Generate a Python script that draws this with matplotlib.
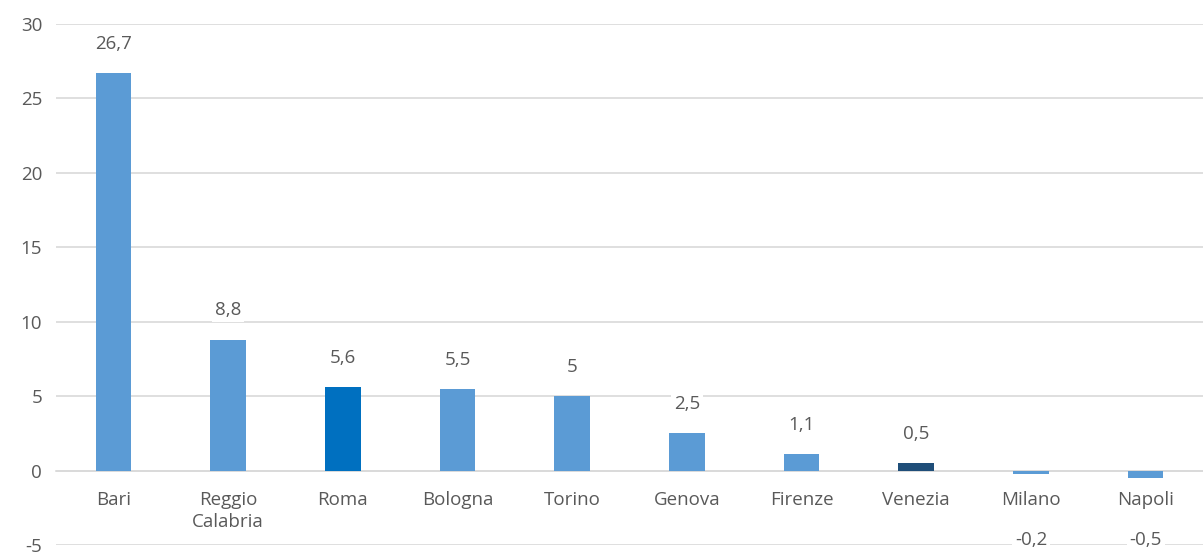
import matplotlib.pyplot as plt

cities = ["Bari", "Reggio\nCalabria", "Roma", "Bologna", "Torino", "Genova",
          "Firenze", "Venezia", "Milano", "Napoli"]
values = [26.7, 8.8, 5.6, 5.5, 5.0, 2.5, 1.1, 0.5, -0.2, -0.5]
labels = ["26,7", "8,8", "5,6", "5,5", "5", "2,5", "1,1", "0,5", "-0,2", "-0,5"]

LIGHT = "#5B9BD5"
bar_colors = [LIGHT, LIGHT, "#0070C0", LIGHT, LIGHT, LIGHT, LIGHT, "#1F4E79", LIGHT, LIGHT]
TEXT = "#595959"
GRID = "#D9D9D9"
FS = 13.5

plt.rcParams["font.family"] = ["Open Sans", "DejaVu Sans"]
plt.rcParams["axes.unicode_minus"] = False

fig = plt.figure(figsize=(12.03, 5.52), dpi=100)
ax = fig.add_axes([0.0466, 0.0127, 0.9534, 0.9438])

x = list(range(len(cities)))
ax.bar(x, values, width=0.31, color=bar_colors, zorder=3)

ax.set_xlim(-0.5, len(cities) - 0.5)
ax.set_ylim(-5, 30)
ax.set_yticks(range(-5, 31, 5))
ax.yaxis.grid(True, color=GRID, linewidth=1.2, zorder=0)
ax.set_axisbelow(True)

for s in ["top", "right", "left"]:
    ax.spines[s].set_visible(False)
ax.spines["bottom"].set_position(("data", 0))
ax.spines["bottom"].set_color(GRID)
ax.spines["bottom"].set_linewidth(1.2)

ax.set_xticks(x)
ax.set_xticklabels(cities, fontsize=FS, color=TEXT, linespacing=1.25)
ax.tick_params(axis="x", length=0, pad=15)
ax.tick_params(axis="y", length=0, labelsize=FS, labelcolor=TEXT, pad=10)

for xi, v, lab in zip(x, values, labels):
    if v >= 0:
        ax.annotate(lab, (xi, v), xytext=(0, 21), textcoords="offset points",
                    ha="center", va="center", fontsize=FS, color=TEXT,
                    bbox=dict(facecolor="white", edgecolor="none", pad=2), zorder=4)
    else:
        ax.text(xi, -4.65, lab, ha="center", va="center", fontsize=FS, color=TEXT,
                bbox=dict(facecolor="white", edgecolor="none", pad=2), zorder=4)

fig.savefig("out.png", dpi=100)
